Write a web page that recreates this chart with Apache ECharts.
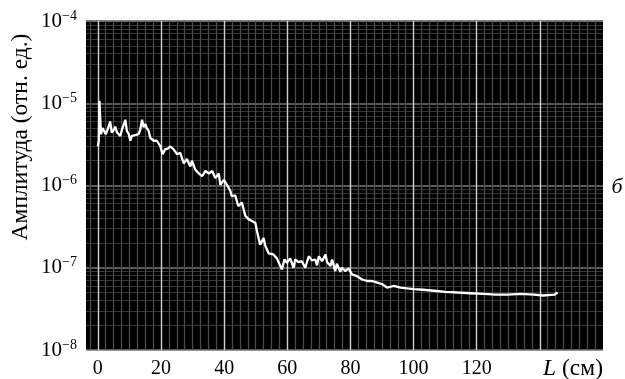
<!DOCTYPE html>
<html>
<head>
<meta charset="utf-8">
<script src="https://cdn.jsdelivr.net/npm/echarts@6/dist/echarts.min.js"></script>
<style>
  html, body { margin: 0; padding: 0; background: #fff; }
  #chart { width: 625px; height: 379px; }
</style>
</head>
<body>
<div id="chart"></div>
<script>
// длина L (см)
const lengthCm = [
  0.0, 0.3, 0.5, 1.0, 1.5, 2.1, 2.5, 3.1, 3.9, 4.4, 5.0, 5.5, 6.1, 7.1, 7.6, 8.2, 8.7, 9.2, 9.8,
  10.3, 10.8, 11.8, 12.9, 13.4, 14.0, 14.5, 15.0, 15.5, 16.1, 16.6, 17.2, 17.7, 18.7, 19.8,
  20.5, 21.3, 22.1, 22.9, 24.0, 25.1, 26.1, 27.2, 28.2, 29.3, 29.8, 30.9, 32.0, 33.0, 34.1,
  35.2, 36.2, 37.2, 38.3, 38.8, 39.9, 40.9, 42.0, 42.4, 43.5, 44.5, 45.6, 46.7, 47.7, 48.8,
  49.9, 50.4, 51.4, 52.5, 53.0, 54.1, 55.6, 56.7, 57.8, 58.3, 59.1, 59.9, 60.9, 62.0, 62.5,
  63.5, 64.6, 65.7, 66.8, 67.8, 68.9, 69.4, 70.0, 71.0, 72.1, 72.6, 73.1, 73.7, 74.2, 75.2,
  75.7, 76.8, 77.3, 78.4, 79.4, 80.5, 82.1, 83.7, 85.3, 86.9, 88.5, 90.1, 91.6, 92.2, 93.7,
  95.9, 98.0, 100.1, 103.0, 106.5, 110.0, 113.9, 118.0, 122.3, 126.0, 129.7, 134.0, 138.2,
  141.0, 144.6, 145.6
];
// амплитуда (отн. ед.)
const amplitude = [
  3.0e-6, 3.5e-6, 1.07e-5, 4.2e-6, 5.0e-6, 5.2e-6, 4.2e-6, 4.8e-6, 6.0e-6, 4.4e-6, 4.7e-6, 5.2e-6, 4.4e-6, 4.0e-6, 4.7e-6, 4.8e-6, 6.3e-6, 4.6e-6, 4.2e-6,
  3.5e-6, 4.0e-6, 4.1e-6, 4.2e-6, 4.7e-6, 6.3e-6, 5.1e-6, 5.6e-6, 5.0e-6, 4.6e-6, 3.8e-6, 4.0e-6, 3.5e-6, 3.5e-6, 3.0e-6,
  2.4e-6, 2.75e-6, 2.8e-6, 3.0e-6, 2.75e-6, 2.4e-6, 2.5e-6, 1.86e-6, 2.1e-6, 1.7e-6, 2.0e-6, 1.55e-6, 1.4e-6, 1.3e-6, 1.5e-6,
  1.4e-6, 1.5e-6, 1.23e-6, 1.4e-6, 1.02e-6, 1.17e-6, 1.02e-6, 8.5e-7, 7.4e-7, 7.6e-7, 5.6e-7, 6.2e-7, 4.3e-7, 3.9e-7, 3.7e-7,
  3.5e-7, 2.8e-7, 1.9e-7, 2.3e-7, 1.86e-7, 1.5e-7, 1.45e-7, 1.3e-7, 1.05e-7, 9.5e-8, 1.26e-7, 1.15e-7, 1.3e-7, 1.0e-7, 1.26e-7,
  1.17e-7, 1.2e-7, 1.0e-7, 1.38e-7, 1.23e-7, 1.26e-7, 1.07e-7, 1.38e-7, 1.2e-7, 1.45e-7, 1.17e-7, 1.23e-7, 1.05e-7, 1.26e-7, 9.1e-8,
  1.12e-7, 8.9e-8, 1.0e-7, 9.1e-8, 9.8e-8, 8.3e-8, 7.9e-8, 7.2e-8, 6.9e-8, 6.9e-8, 6.6e-8, 6.3e-8, 5.75e-8, 6.0e-8, 6.0e-8,
  5.75e-8, 5.6e-8, 5.5e-8, 5.4e-8, 5.25e-8, 5.1e-8, 5.0e-8, 4.9e-8, 4.8e-8, 4.7e-8, 4.7e-8, 4.8e-8, 4.7e-8,
  4.6e-8, 4.7e-8, 5.0e-8
];

// подписи оси X
const xTickLabels = [0, 20, 40, 60, 80, 100, 120];
// основные и дополнительные вертикальные линии сетки
const xMajorLines = [0, 20, 40, 60, 80, 100, 120, 140];
const xMinorLines = [
  -2.5, 2.5, 5, 7.5, 10, 12.5, 15, 17.5, 22.5, 25, 27.5, 30, 32.5, 35, 37.5,
  42.5, 45, 47.5, 50, 52.5, 55, 57.5, 62.5, 65, 67.5, 70, 72.5, 75, 77.5,
  82.5, 85, 87.5, 90, 92.5, 95, 97.5, 102.5, 105, 107.5, 110, 112.5, 115, 117.5,
  122.5, 125, 127.5, 130, 132.5, 135, 137.5, 142.5, 145, 147.5, 150, 152.5, 155, 157.5
];
// логарифмические доп. линии: 2..9 в каждой декаде
const yMinorMantissa = [2, 3, 4, 5, 6, 7, 8, 9];
const yDecades = [1e-8, 1e-7, 1e-6, 1e-5];

const X_MIN = -3.75;
const X_MAX = 160;
const serif = "'Liberation Serif', 'DejaVu Serif', serif";

const yMinorLines = [];
yDecades.forEach((d) => yMinorMantissa.forEach((m) => yMinorLines.push(m * d)));

const chart = echarts.init(document.getElementById('chart'), null, { renderer: 'canvas' });

const gridLineSeries = (name, data, color, width, z) => ({
  name: name,
  type: 'line',
  data: [],
  z: z,
  silent: true,
  markLine: {
    silent: true,
    animation: false,
    symbol: ['none', 'none'],
    label: { show: false },
    lineStyle: { type: 'solid', color: color, width: width },
    emphasis: { disabled: true },
    data: data
  }
});

const option = {
  animation: false,
  backgroundColor: '#fff',
  textStyle: { fontFamily: serif },
  grid: {
    left: 86, top: 21, right: 22, bottom: 28,
    show: true, backgroundColor: '#000', borderWidth: 0
  },
  xAxis: {
    type: 'value',
    min: X_MIN,
    max: X_MAX,
    axisLine: { show: false },
    axisTick: { show: false },
    splitLine: { show: false },
    axisLabel: {
      customValues: xTickLabels,
      color: '#000',
      fontFamily: serif,
      fontSize: 20,
      margin: 9
    }
  },
  yAxis: {
    type: 'log',
    logBase: 10,
    min: 1e-8,
    max: 1e-4,
    axisLine: { show: false },
    axisTick: { show: false },
    splitLine: { show: true, lineStyle: { color: '#767676', width: 1.5 } },
    axisLabel: {
      margin: 9,
      formatter: (v) => '{b|10}{s|\u2212' + Math.round(-Math.log10(v)) + '}',
      rich: {
        b: { fontFamily: serif, fontSize: 21, color: '#000', lineHeight: 24 },
        s: { fontFamily: serif, fontSize: 14, color: '#000', lineHeight: 14, verticalAlign: 'top' }
      }
    }
  },
  series: [
    gridLineSeries('yMinor', yMinorLines.map((v) => [{ coord: [X_MIN, v] }, { coord: [X_MAX, v] }]), '#353535', 1.2, 1),
    gridLineSeries('xMinor', xMinorLines.map((v) => ({ xAxis: v })), '#4a4a4a', 1.3, 2),
    gridLineSeries('xMajor', xMajorLines.map((v) => ({ xAxis: v })), '#d0d0d0', 1.4, 3),
    {
      name: 'amp',
      type: 'line',
      z: 5,
      showSymbol: false,
      symbol: 'none',
      lineStyle: { color: '#ffffff', width: 2.3 },
      data: lengthCm.map((x, i) => [x, amplitude[i]])
    }
  ],
  graphic: [
    {
      type: 'text',
      x: 21, y: 137,
      rotation: Math.PI / 2,
      style: {
        text: 'Амплитуда (отн. ед.)',
        font: '23.5px ' + serif,
        fill: '#000',
        align: 'center',
        verticalAlign: 'middle'
      }
    },
    {
      type: 'text',
      x: 617, y: 187,
      style: {
        text: 'б',
        font: 'italic 22px ' + serif,
        fill: '#000',
        align: 'center',
        verticalAlign: 'middle'
      }
    },
    {
      type: 'text',
      x: 603, y: 369,
      style: {
        text: '{i|L} (см)',
        font: '23.5px ' + serif,
        fill: '#000',
        align: 'right',
        verticalAlign: 'middle',
        rich: {
          i: { fontStyle: 'italic', fontFamily: serif, fontSize: 23.5, fill: '#000' }
        }
      }
    }
  ]
};

chart.setOption(option);
</script>
</body>
</html>
